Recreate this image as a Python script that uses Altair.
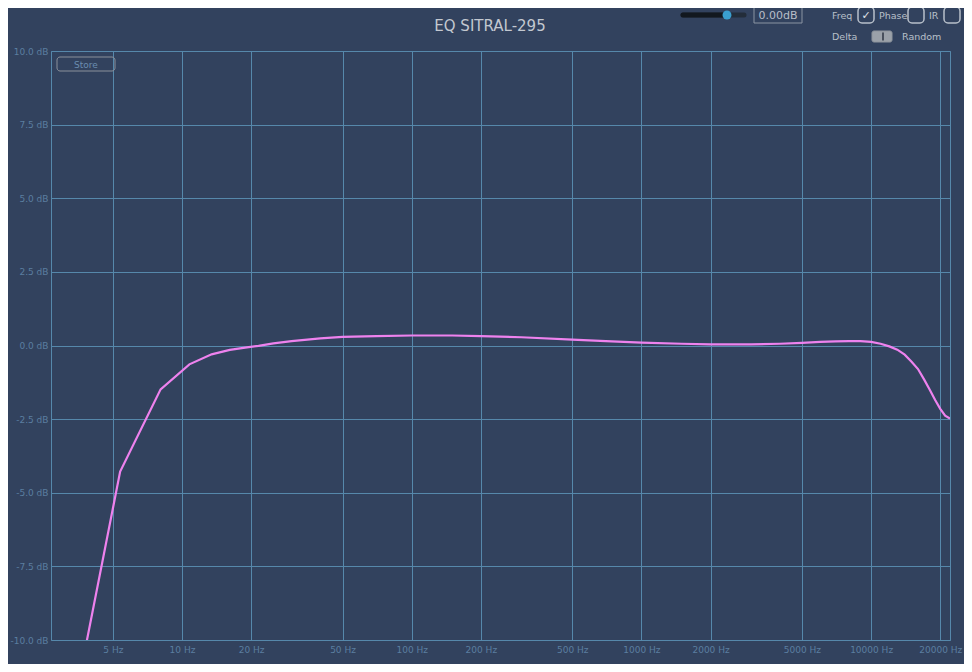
import altair as alt
import pandas as pd

# ---- data ----
freqs = [2.69, 5.38, 8.07, 10.77, 13.46, 16.15, 18.84, 21.53, 25, 30, 40, 50, 70, 100,
         150, 200, 300, 500, 700, 1000, 1500, 2000, 3000, 4000, 5000, 6000, 7000, 8000,
         9000, 10000, 11000, 12000, 13000, 14000, 15000, 16000, 17000, 18000, 19000,
         20000, 21000, 22050]
gains = [-16.2, -4.28, -1.49, -0.64, -0.30, -0.15, -0.07, -0.01, 0.07, 0.15, 0.24, 0.29,
         0.32, 0.34, 0.34, 0.32, 0.28, 0.20, 0.15, 0.10, 0.06, 0.04, 0.04, 0.06, 0.09,
         0.12, 0.14, 0.15, 0.15, 0.12, 0.06, -0.03, -0.14, -0.31, -0.55, -0.80, -1.15,
         -1.50, -1.85, -2.15, -2.38, -2.48]
x_ticks = [5, 10, 20, 50, 100, 200, 500, 1000, 2000, 5000, 10000, 20000]
y_ticks = [-10, -7.5, -5, -2.5, 0, 2.5, 5, 7.5, 10]
title_text = "EQ SITRAL-295"

BG = "#32425e"
GRID = "#5688ab"
LABEL = "#5b7ea0"
FONT = "DejaVu Sans"
W, H = 899, 589

df = pd.DataFrame({"freq": freqs, "gain": gains})

line = alt.Chart(df).mark_line(color="#ee82ee", strokeWidth=2.2, clip=True).encode(
    x=alt.X("freq:Q",
            scale=alt.Scale(type="log", domain=[2.69, 22050], nice=False),
            axis=alt.Axis(values=x_ticks, title=None, grid=True,
                          labelExpr="format(datum.value, 'd') + ' Hz'",
                          labelPadding=5, labelFlush=False)),
    y=alt.Y("gain:Q",
            scale=alt.Scale(domain=[-10, 10], nice=False, zero=False),
            axis=alt.Axis(values=y_ticks, title=None, grid=True,
                          labelExpr="(datum.value < 0 ? '-' : '') + format(abs(datum.value), '.1f') + ' dB'",
                          labelPadding=3, labelFlush=False)),
)

OX, OY = 51, 51  # plot origin in page pixels


def one():
    return alt.Data(values=[{"k": 1}])


def txt(t, x, y, size, color, align="left", font=FONT):
    return alt.Chart(one()).mark_text(
        text=t, align=align, baseline="middle", fontSize=size, color=color, font=font
    ).encode(x=alt.value(x - OX), y=alt.value(y - OY))


def box(x1, x2, y1, y2, stroke, fill=None, radius=0, sw=1):
    kw = dict(stroke=stroke, strokeWidth=sw, cornerRadius=radius)
    if fill is None:
        kw["fillOpacity"] = 0
        kw["fill"] = BG
    else:
        kw["fill"] = fill
    return alt.Chart(one()).mark_rect(**kw).encode(
        x=alt.value(x1 - OX), x2=alt.value(x2 - OX),
        y=alt.value(y1 - OY), y2=alt.value(y2 - OY))


def rule(x1, x2, y, color, sw, cap="round"):
    return alt.Chart(one()).mark_rule(color=color, strokeWidth=sw, strokeCap=cap).encode(
        x=alt.value(x1 - OX), x2=alt.value(x2 - OX), y=alt.value(y - OY))


def vrule(x, y1, y2, color, sw):
    return alt.Chart(one()).mark_rule(color=color, strokeWidth=sw).encode(
        x=alt.value(x - OX), y=alt.value(y1 - OY), y2=alt.value(y2 - OY))


def dot(x, y, color, size):
    return alt.Chart(one()).mark_point(filled=True, color=color, size=size, opacity=1,
                                       shape="circle").encode(
        x=alt.value(x - OX), y=alt.value(y - OY))


deco = [
    txt(title_text, 490, 26, 15, "#c3c8d0", align="center"),
    # slider
    rule(683, 744, 15, "#232d3a", 5),
    rule(683, 727, 15, "#12181f", 5),
    dot(727, 15, "#3a9fd0", 80),
    # value box
    box(754, 802, 7, 23, "#8a94a2"),
    txt("0.00dB", 778, 15.5, 11, "#b8bec8", align="center"),
    # checkboxes
    txt("Freq", 832, 16, 9.5, "#b8c0ca"),
    box(858, 874, 7, 23, "#b8c0ca", radius=4, sw=1.5),
    txt("\u2713", 866, 15.5, 11, "#e0e4ea", align="center"),
    txt("Phase", 879, 16, 9.5, "#b8c0ca"),
    box(908, 924, 7, 23, "#b8c0ca", radius=4, sw=1.5),
    txt("IR", 929, 16, 9.5, "#b8c0ca"),
    box(944, 960, 7, 23, "#b8c0ca", radius=4, sw=1.5),
    txt("Delta", 832, 37, 9.5, "#b8c0ca"),
    box(872, 892, 31, 42, "#8e949c", fill="#9ba1a9", radius=2),
    vrule(883, 32.5, 40.5, "#2e3644", 1.5),
    txt("Random", 902, 37, 9.5, "#b8c0ca"),
    # store button
    box(57, 115, 57, 71, "#8a909a", radius=3),
    txt("Store", 86, 64.5, 9, "#6a8db0", align="center"),
]

chart = alt.layer(line, *deco).properties(
    width=W, height=H,
    autosize=alt.AutoSizeParams(type="none"),
    padding={"left": 43, "top": 43, "right": 14, "bottom": 24},
    background=BG,
).configure_view(
    stroke=GRID, strokeWidth=1, fill=BG
).configure_axis(
    gridColor=GRID, gridWidth=1, gridOpacity=1,
    domain=False, ticks=False,
    labelColor=LABEL, labelFont=FONT, labelFontSize=9,
)

chart.save("out.html", embed_options={"renderer": "svg", "actions": False})
